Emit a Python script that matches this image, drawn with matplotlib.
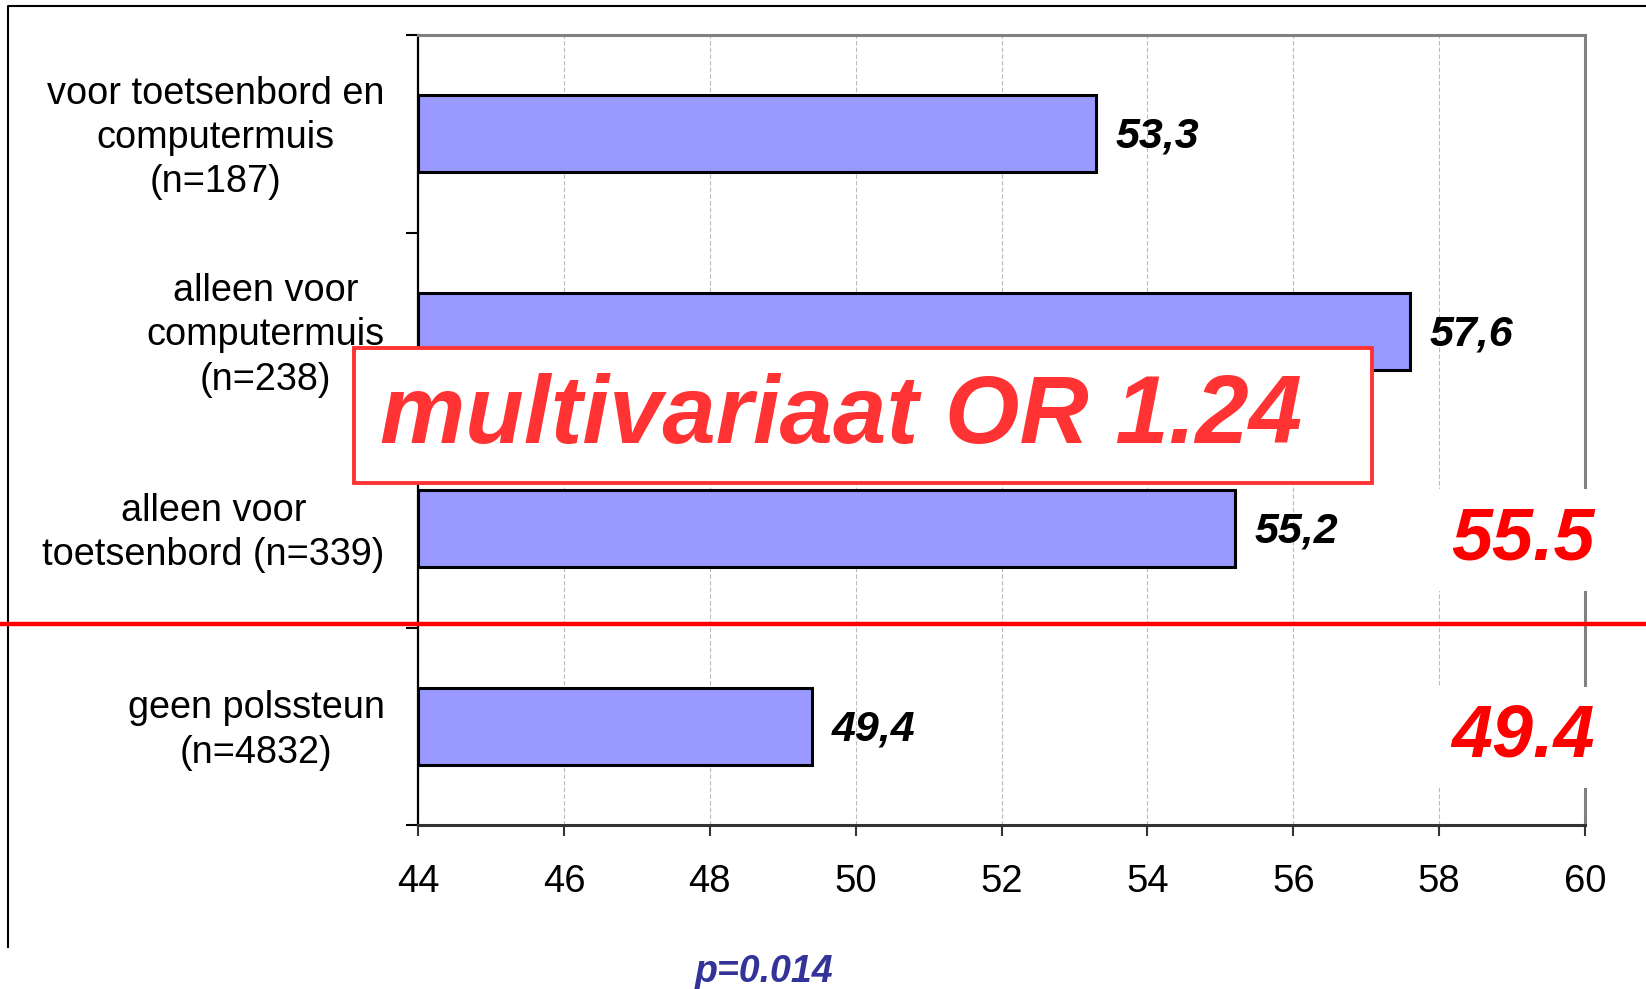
import matplotlib.pyplot as plt
import matplotlib.transforms as mtransforms
from matplotlib.lines import Line2D

plt.rcParams['font.family'] = ['Liberation Sans', 'DejaVu Sans']

categories = [
    'voor toetsenbord en\ncomputermuis\n(n=187)',
    'alleen voor\ncomputermuis\n(n=238)',
    'alleen voor\ntoetsenbord (n=339)',
    'geen polssteun\n(n=4832)',
]
values = [53.3, 57.6, 55.2, 49.4]
value_labels = ['53,3', '57,6', '55,2', '49,4']
x_ticks = [44, 46, 48, 50, 52, 54, 56, 58, 60]
group_means = {2: '55.5', 3: '49.4'}
overlay_text = 'multivariaat OR 1.24'
p_text = 'p=0.014'

W, H = 1646, 989
fig = plt.figure(figsize=(W / 100, H / 100), dpi=100)
ax = fig.add_axes([418 / W, 1 - 825 / H, (1585 - 418) / W, 790 / H])

ypos = list(range(len(categories)))
ax.barh(ypos, [v - 44 for v in values], left=44, height=0.39,
        color='#9999FF', edgecolor='black', linewidth=2.2, zorder=2)

ax.set_xlim(44, 60)
ax.set_ylim(3.5, -0.5)
ax.set_xticks(x_ticks)
ax.set_yticks([-0.5, 0.5, 1.5, 2.5, 3.5])
ax.set_yticklabels([])
ax.tick_params(axis='x', labelsize=27.5, length=8, width=1.5, pad=20, color='#333333')
ax.tick_params(axis='y', length=9, width=1.5, color='black')
ax.set_axisbelow(True)
ax.xaxis.grid(True, color='#BBBBBB', linestyle=(0, (4, 2)), linewidth=0.8)

for side in ['top', 'right']:
    ax.spines[side].set_color('#808080')
    ax.spines[side].set_linewidth(2.2)
ax.spines['left'].set_color('black')
ax.spines['left'].set_linewidth(1.6)
ax.spines['bottom'].set_color('#333333')
ax.spines['bottom'].set_linewidth(2.2)

# category labels, right edge a bit left of the axis
for y, lab in zip(ypos, categories):
    ax.annotate(lab, xy=(0, y), xycoords=('axes fraction', 'data'),
                xytext=(-24, -3), textcoords='offset points',
                ha='right', va='center', multialignment='center',
                fontsize=27.3, linespacing=1.3)

# value labels
for y, v, lab in zip(ypos, values, value_labels):
    ax.annotate(lab, xy=(v, y), xytext=(14, -2), textcoords='offset points',
                ha='left', va='center', fontsize=31,
                fontweight='bold', fontstyle='italic')

# red group means at the right, on white background
for y, txt in group_means.items():
    ax.annotate(txt, xy=(1, y), xycoords=('axes fraction', 'data'),
                xytext=(7, -8), textcoords='offset points',
                ha='right', va='center', fontsize=53, color='#FF0000',
                fontweight='bold', fontstyle='italic', zorder=5,
                bbox=dict(boxstyle='square,pad=0.22', fc='white', ec='none'),
                annotation_clip=False)

# red separating line across the whole figure
trans = mtransforms.blended_transform_factory(fig.transFigure, ax.transData)
fig.add_artist(Line2D([0, 1], [2.48, 2.48], transform=trans,
                      color='#FF0000', linewidth=3.2, zorder=6))

# overlay box
fig.text(380 / W, 1 - 418 / H, overlay_text, ha='left', va='center',
         fontsize=69, color='#FF3333', fontweight='bold', fontstyle='italic',
         zorder=8)
fig.add_artist(plt.Rectangle((354 / W, 1 - 483 / H), (1372 - 354) / W, (483 - 348) / H,
                             transform=fig.transFigure, facecolor='white',
                             edgecolor='#FF3333', linewidth=2.8, zorder=7))

fig.text(764 / W, 1 - 972 / H, p_text, ha='center', va='center',
         fontsize=27, color='#333399', fontweight='bold', fontstyle='italic')

# outer frame (left and top edges)
fig.add_artist(Line2D([8 / W, 8 / W, 1], [1 - 947 / H, 1 - 6 / H, 1 - 6 / H],
                      transform=fig.transFigure, color='black', linewidth=1.5))

fig.savefig('out.png', dpi=100)
